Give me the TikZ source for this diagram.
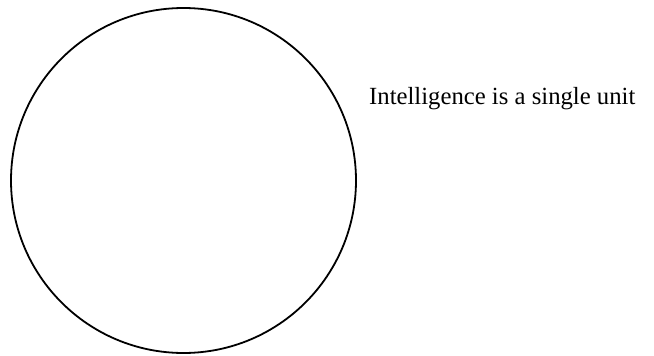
\documentclass[tikz,border=0pt]{standalone}
\usepackage{fontspec}
\setmainfont{Liberation Serif}
\usetikzlibrary{positioning}

\tikzset{
  unit/.style={circle,draw,line width=1.8pt,minimum size=345pt,inner sep=0pt},
  caption/.style={font=\fontsize{24.7}{30}\selectfont,inner sep=0pt}
}

\begin{document}
\begin{tikzpicture}[x=1pt,y=-1pt]
  \useasboundingbox (0,0) rectangle (654,356);
  \node[unit] (whole) at (183.5,180.5) {};
  \node[caption,anchor=base west] (label) at (369,104) {Intelligence is a single unit};
\end{tikzpicture}
\end{document}
